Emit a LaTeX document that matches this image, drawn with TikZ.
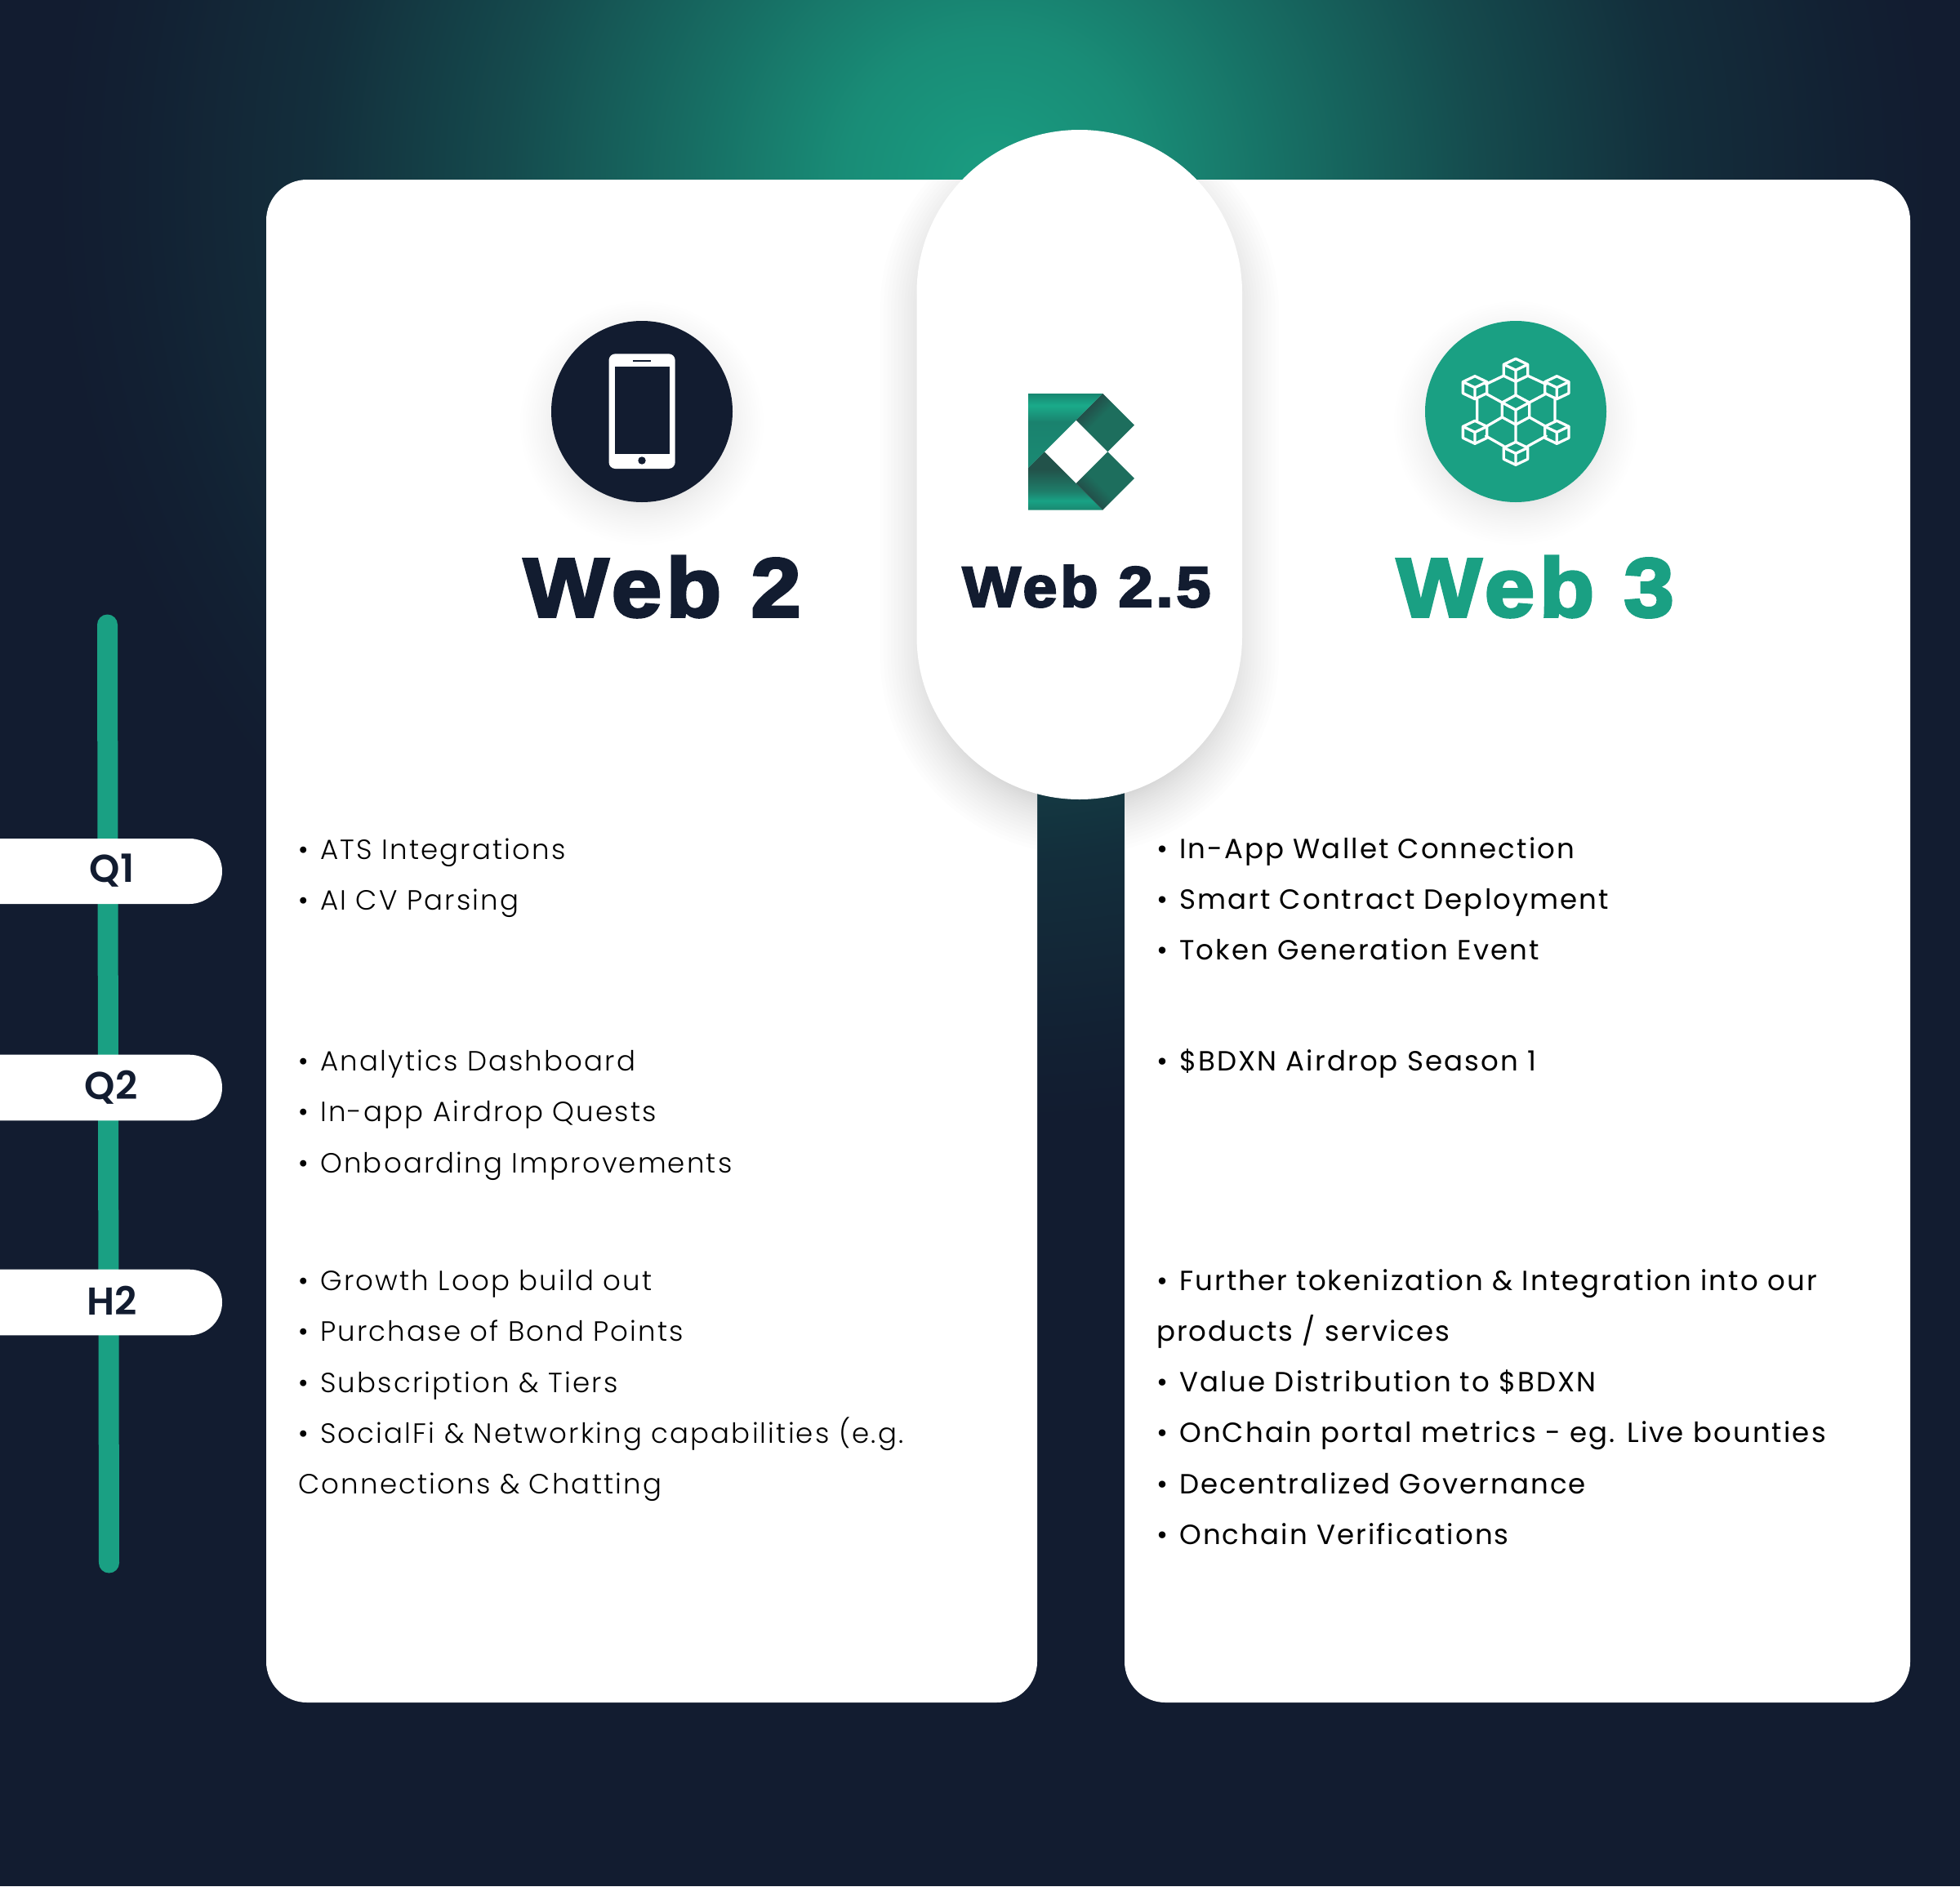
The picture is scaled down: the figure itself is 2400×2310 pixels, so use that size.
\documentclass[tikz,border=0pt]{standalone}
\usepackage{fontspec}
\setmainfont{Poppins}
\newfontfamily\lightf[LetterSpace=6.3]{Poppins Light}
\newfontfamily\regf[LetterSpace=6.2]{Poppins}
\newfontfamily\semif{Poppins SemiBold}
\newfontfamily\heavyf[LetterSpace=5.6,FakeBold=3.5,FakeStretch=1.08]{Liberation Sans Bold}
\newcommand\bul{•\hspace{3pt}\space}
\definecolor{navy}{HTML}{121C30}
\definecolor{teal}{HTML}{1AA083}
\definecolor{HTMLa}{HTML}{1A8A73}\definecolor{HTMLb}{HTML}{1A826E}
\definecolor{HTMLc}{HTML}{1AAB8A}\definecolor{HTMLd}{HTML}{178670}
\definecolor{HTMLe}{HTML}{1A8870}\definecolor{HTMLf}{HTML}{18A285}
\definecolor{HTMLg}{HTML}{1E7E6A}\definecolor{HTMLh}{HTML}{22524A}
\definecolor{HTMLi}{HTML}{1D6E5D}\definecolor{HTMLj}{HTML}{22504A}
\pgfdeclareradialshading{glow}{\pgfpoint{0bp}{0bp}}{%
 color(0bp)=(teal!98!navy); color(4bp)=(teal!85!navy); color(8bp)=(teal!62!navy);
 color(13bp)=(teal!35!navy); color(18bp)=(teal!14!navy); color(23bp)=(teal!3!navy); color(25bp)=(navy); color(50bp)=(navy)}
\pgfdeclareverticalshading{logotop}{100bp}{%
 color(0bp)=(HTMLa); color(25bp)=(HTMLa); color(56bp)=(HTMLb); color(67bp)=(HTMLc); color(75bp)=(HTMLd); color(100bp)=(HTMLd)}
\pgfdeclareverticalshading{logolow}{100bp}{%
 color(0bp)=(HTMLe); color(25bp)=(HTMLe); color(33bp)=(HTMLf); color(41bp)=(HTMLg); color(60bp)=(HTMLh); color(100bp)=(HTMLh)}
\pgfdeclareverticalshading{logodia}{100bp}{%
 color(0bp)=(HTMLi); color(56bp)=(HTMLi); color(69bp)=(HTMLj); color(100bp)=(HTMLj)}
\tikzset{
 panel/.style={fill=white,rounded corners=50pt},
 itemL/.style={anchor=base west,inner sep=0pt,outer sep=0pt,font=\lightf\fontsize{34}{34}\selectfont,text=black},
 itemR/.style={anchor=base west,inner sep=0pt,outer sep=0pt,font=\regf\fontsize{34}{34}\selectfont,text=black},
 tag/.style={fill=white,rounded corners=40pt},
 tagtext/.style={anchor=base,inner sep=0pt,outer sep=0pt,font=\semif\fontsize{47.5}{47.5}\selectfont,text=navy},
 heading/.style={anchor=base,inner sep=0pt,outer sep=0pt,font=\heavyf\fontsize{102}{102}\selectfont},
 softlayer/.style={fill=black,fill opacity=0.006},
 softdisclayer/.style={fill=black,fill opacity=0.004},
 icon/.style={draw=white,line width=3.3pt,line join=round,line cap=round},
}
\newcommand\softdisc[2]{%
 \foreach \i in {0,...,24}{%
  \pgfmathsetmacro\dd{-14+52*(\i/24)^1.6}%
  \path[softdisclayer] (#1,#2+14) circle ({(111+\dd)*1pt});}}
\newcommand\cubeicon[4]{% x y halfwidth halfheight
 \draw[icon] (#1,#2-#4) -- (#1+#3,#2-#4/2) -- (#1+#3,#2+#4/2) -- (#1,#2+#4) -- (#1-#3,#2+#4/2) -- (#1-#3,#2-#4/2) -- cycle;
 \draw[icon] (#1-#3,#2-#4/2) -- (#1,#2) -- (#1+#3,#2-#4/2) (#1,#2) -- (#1,#2+#4);}
\begin{document}
\begin{tikzpicture}[x=1pt,y=-1pt]
\useasboundingbox (0,0) rectangle (2400,2310);
\clip (0,0) rectangle (2400,2310);
\fill[navy] (0,0) rectangle (2400,2310);
\shade[shading=glow] (1215,225) circle (1150pt);
% timeline
\draw[teal,line width=25pt,line cap=round] (131.5,765) -- (133.5,1914);
% panels
\path[panel] (326,220) rectangle (1270,2085);
\path[panel] (1377,220) rectangle (2339,2085);
% shadows on panels
\begin{scope}
\clip[rounded corners=50pt] (326,220) rectangle (1270,2085) (1377,220) rectangle (2339,2085);
\foreach \i in {0,...,24}{%
 \pgfmathsetmacro\dd{-25+70*(\i/24)^1.6}%
 \path[softlayer,rounded corners={(199.25+\dd)*1pt}] (1122.5-\dd,159-\dd+22) rectangle (1521+\dd,979+\dd+22);}
\softdisc{786}{504}
\softdisc{1856}{504}
\end{scope}
% centre pill
\path[fill=white,rounded corners=199.25pt] (1122.5,159) rectangle (1521,979);
% icon discs
\fill[navy] (786,504) circle (111pt);
\fill[teal] (1856,504) circle (111pt);
% phone
\fill[white,rounded corners=8pt] (745.5,433.3) rectangle (826.7,574);
\fill[navy] (752.7,449.3) rectangle (820.3,555.7);
\draw[navy,line width=2pt] (775.3,442) -- (797.3,442);
\fill[navy] (786,564) circle (4.7pt);
% network
\begin{scope}[shift={(1730,380)},x=0.3333pt,y=-0.3333pt]
\cubeicon{378}{220}{44}{42}
\cubeicon{228}{284}{44}{42}
\cubeicon{529}{284}{44}{42}
\cubeicon{228}{448}{44}{42}
\cubeicon{529}{448}{44}{42}
\cubeicon{378}{526}{44}{42}
\cubeicon{378}{366}{50}{54}
\draw[icon] (335,240) -- (268,272) (421,240) -- (490,272)
 (236,326) -- (236,406) (522,326) -- (522,406)
 (268,462) -- (335,500) (490,462) -- (421,500)
 (378,262) -- (378,312) (378,420) -- (378,484)
 (268,306) -- (328,339) (490,306) -- (428,339)
 (268,428) -- (328,393) (490,428) -- (428,393);
\end{scope}
% logo
\begin{scope}[shift={(1200,420)},x=0.3333pt,y=-0.3333pt]
\shade[shading=logotop] (177,186) -- (451,186) -- (237,400) -- (177,460) -- cycle;
\shade[shading=logolow] (177,460) -- (237,400) -- (451,614) -- (177,614) -- cycle;
\shade[shading=logodia,shading angle=45] (451,186) -- (567,302) -- (469,400) -- (353,284) -- cycle;
\shade[shading=logodia,shading angle=135] (567,498) -- (451,614) -- (353,516) -- (469,400) -- cycle;
\end{scope}
% headings
\node[heading,text=navy] (web2) at (811,755) {Web 2};
\node[heading,text=teal] (web3) at (1880,755) {Web 3};
\node[heading,text=navy,font=\heavyf\fontsize{70}{70}\selectfont] (web25) at (1330.5,743) {Web 2.5};
% tags
\path[tag] (-60,1027) rectangle (272,1107);
\path[tag] (-60,1291.7) rectangle (272,1372.3);
\path[tag] (-60,1554.7) rectangle (272,1635.3);
\node[tagtext] (q1) at (137,1080) {Q1};
\node[tagtext] (q2) at (136,1346.7) {Q2};
\node[tagtext] (h2) at (137,1610) {H2};
% left items
\node[itemL] (l1) at (365.5,1052) {\bul ATS Integrations};
\node[itemL] (l2) at (365.5,1114) {\bul AI CV Parsing};
\node[itemL] (l3) at (365.5,1311) {\bul Analytics Dashboard};
\node[itemL] (l4) at (365.5,1373.8) {\bul In-app Airdrop Quests};
\node[itemL] (l5) at (365.5,1436) {\bul Onboarding Improvements};
\node[itemL] (l6) at (365.5,1580) {\bul Growth Loop build out};
\node[itemL] (l7) at (365.5,1642.4) {\bul Purchase of Bond Points};
\node[itemL] (l8) at (365.5,1705.3) {\bul Subscription \& Tiers};
\node[itemL] (l9) at (365.5,1767) {\bul SocialFi \& Networking capabilities (e.g.};
\node[itemL] (l10) at (365.5,1829) {Connections \& Chatting};
% right items
\node[itemR] (r1) at (1416,1051) {\bul In-App Wallet Connection};
\node[itemR] (r2) at (1416,1113.4) {\bul Smart Contract Deployment};
\node[itemR] (r3) at (1416,1175.8) {\bul Token Generation Event};
\node[itemR] (r4) at (1416,1311) {\bul \$BDXN Airdrop Season 1};
\node[itemR] (r5) at (1416,1580) {\bul Further tokenization \& Integration into our};
\node[itemR] (r6) at (1416,1642.4) {products / services};
\node[itemR] (r7) at (1416,1704.4) {\bul Value Distribution to \$BDXN};
\node[itemR] (r8) at (1416,1766.6) {\bul OnChain portal metrics - eg. Live bounties};
\node[itemR] (r9) at (1416,1829) {\bul Decentralized Governance};
\node[itemR] (r10) at (1416,1891.4) {\bul Onchain Verifications};
\end{tikzpicture}
\end{document}
